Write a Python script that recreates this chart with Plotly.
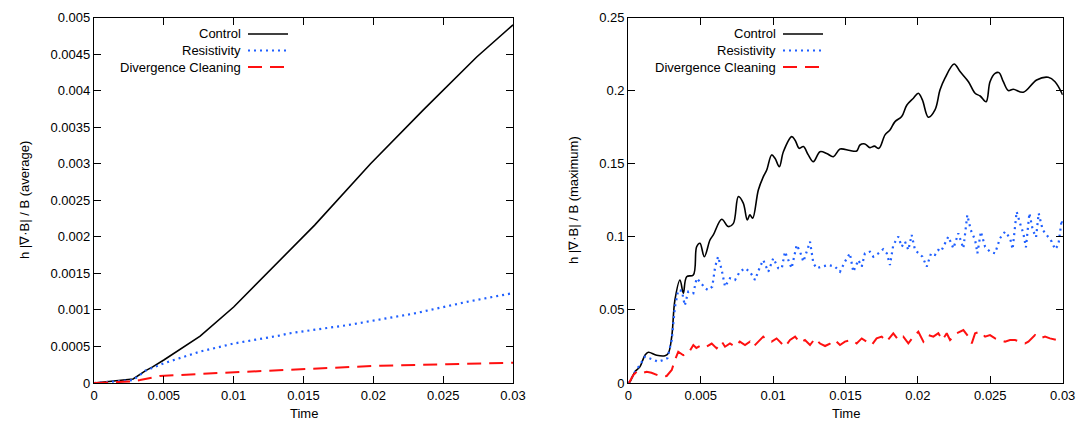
import plotly.graph_objects as go

# ---------------- Left panel: average ----------------
avg_ctrl_t = [0, 0.0015, 0.0028, 0.0037, 0.0042, 0.005, 0.0076, 0.01, 0.0121, 0.0140, 0.0158, 0.0198, 0.0236, 0.0274, 0.03]
avg_ctrl_v = [0, 0.00003, 0.000055, 0.00017, 0.00022, 0.000315, 0.00064, 0.00104, 0.00145, 0.00182, 0.00216, 0.00300, 0.00374, 0.00446, 0.0049]

avg_res_t = [0, 0.0015, 0.0028, 0.0037, 0.005, 0.0076, 0.01, 0.0133, 0.0140, 0.0181, 0.0229, 0.0267, 0.03]
avg_res_v = [0, 0.00002, 0.00004, 0.00017, 0.00027, 0.00043, 0.00054, 0.00065, 0.00068, 0.00079, 0.00095, 0.00111, 0.00123]

avg_div_t = [0, 0.0015, 0.0026, 0.0033, 0.0047, 0.0093, 0.014, 0.0157, 0.0205, 0.0253, 0.03]
avg_div_v = [0, 0.00001, 0.00002, 0.00004, 0.000096, 0.00014, 0.000178, 0.00019, 0.000237, 0.000256, 0.000278]

# ---------------- Right panel: maximum ----------------
max_ctrl_t = [0, 0.00012, 0.00046, 0.0008, 0.00115, 0.00138, 0.00196, 0.00253, 0.00276, 0.003, 0.00322, 0.00357,
              0.0038, 0.00403, 0.00449, 0.00472, 0.00495, 0.00525, 0.00564, 0.00587, 0.00645, 0.0069, 0.00725, 0.0076,
              0.00794, 0.00822, 0.0084, 0.00859, 0.00898, 0.00932, 0.00956, 0.0099, 0.01013, 0.01043, 0.01071, 0.01129,
              0.01152, 0.01181, 0.01209, 0.01243, 0.01278, 0.01324, 0.0137, 0.01416, 0.01462, 0.01531, 0.01577, 0.016,
              0.01634, 0.01669, 0.01699, 0.01731, 0.01773, 0.01807, 0.01842, 0.01888, 0.01923, 0.01969, 0.02003, 0.02031,
              0.02072, 0.02118, 0.02153, 0.02187, 0.0225, 0.02291, 0.02349, 0.02395, 0.0243, 0.02471, 0.02498, 0.02533,
              0.0256, 0.0259, 0.02624, 0.02659, 0.02728, 0.0282, 0.029, 0.02947, 0.03]
max_ctrl_v = [0, 0.0009, 0.0077, 0.011, 0.019, 0.021, 0.019, 0.0187, 0.0203, 0.0317, 0.0568, 0.0705,
              0.0614, 0.0727, 0.0739, 0.0932, 0.0956, 0.0864, 0.0978, 0.1013, 0.112, 0.107, 0.109, 0.1275,
              0.123, 0.1115, 0.115, 0.1127, 0.132, 0.141, 0.1457, 0.156, 0.1537, 0.148, 0.1582, 0.1685,
              0.166, 0.1605, 0.1617, 0.156, 0.1514, 0.1582, 0.157, 0.1548, 0.16, 0.159, 0.1587, 0.1628,
              0.1635, 0.161, 0.162, 0.1605, 0.1697, 0.173, 0.1788, 0.1822, 0.190, 0.1948, 0.1982, 0.1936,
              0.1818, 0.1868, 0.2005, 0.2085, 0.2182, 0.213, 0.2061, 0.1982, 0.1963, 0.1924, 0.2061, 0.2118,
              0.2123, 0.2061, 0.2, 0.2009, 0.1989, 0.2073, 0.2091, 0.2061, 0.197]

max_res_t = [0, 0.0001, 0.00046, 0.0008, 0.00115, 0.0015, 0.00207, 0.00242, 0.0027, 0.003, 0.00322, 0.00345, 0.0037,
             0.0039, 0.00414, 0.00449, 0.00472, 0.00495, 0.0053, 0.0055, 0.0058, 0.006, 0.0062, 0.00645, 0.00668,
             0.00702, 0.00737, 0.0077, 0.00806, 0.0084, 0.00875, 0.0091, 0.00932, 0.00967, 0.01001, 0.01036, 0.0106,
             0.01082, 0.01105, 0.01128, 0.01163, 0.01186, 0.01209, 0.01232, 0.01255, 0.01278, 0.01301, 0.01336, 0.01381,
             0.01427, 0.01462, 0.01496, 0.0153, 0.01554, 0.01589, 0.01612, 0.01634, 0.01669, 0.01692, 0.01727, 0.0176,
             0.01785, 0.01807, 0.0183, 0.01865, 0.01888, 0.01911, 0.01934, 0.01957, 0.0198, 0.02003, 0.02031, 0.02061,
             0.02091, 0.02118, 0.02141, 0.0216, 0.02187, 0.0221, 0.02245, 0.02279, 0.02314, 0.02341, 0.02365, 0.02395,
             0.02411, 0.02435, 0.02464, 0.02498, 0.02533, 0.02567, 0.02602, 0.02637, 0.02654, 0.02682, 0.02705, 0.02728,
             0.02746, 0.0277, 0.02793, 0.02816, 0.02834, 0.02862, 0.02889, 0.02924, 0.02947, 0.0297, 0.02993, 0.03]
max_res_v = [0, 0.001, 0.0077, 0.0123, 0.018, 0.0169, 0.0146, 0.0157, 0.0169, 0.0294, 0.052, 0.0636, 0.063,
             0.053, 0.0625, 0.0614, 0.0716, 0.0693, 0.0648, 0.0636, 0.0659, 0.0796, 0.0864, 0.0773, 0.0659,
             0.0716, 0.0705, 0.0761, 0.0785, 0.0761, 0.0705, 0.0796, 0.0841, 0.0761, 0.0853, 0.0785, 0.0785,
             0.0898, 0.0841, 0.0785, 0.0944, 0.0898, 0.083, 0.0898, 0.0967, 0.0819, 0.0785, 0.0796, 0.0807,
             0.0796, 0.0761, 0.083, 0.0887, 0.0761, 0.0841, 0.0796, 0.0887, 0.0898, 0.0864, 0.0887, 0.0915,
             0.0887, 0.0807, 0.0944, 0.1001, 0.0932, 0.0967, 0.091, 0.1013, 0.091, 0.0887, 0.0864, 0.0796,
             0.0887, 0.0876, 0.091, 0.09, 0.0956, 0.1001, 0.0921, 0.1024, 0.0921, 0.1149, 0.1047, 0.0978,
             0.0887, 0.1035, 0.0932, 0.0898, 0.0887, 0.099, 0.1035, 0.099, 0.0915, 0.1172, 0.1093, 0.1024,
             0.0928, 0.1161, 0.1047, 0.0997, 0.1161, 0.1047, 0.1013, 0.0967, 0.0915, 0.0944, 0.1115, 0.108]

max_div_t = [0, 0.0001, 0.00035, 0.00058, 0.00092, 0.00127, 0.0016, 0.00196, 0.0023, 0.00265, 0.003, 0.00322,
             0.00345, 0.0038, 0.00414, 0.00449, 0.0047, 0.00507, 0.0054, 0.00576, 0.0061, 0.00645, 0.00668, 0.00702,
             0.00737, 0.0077, 0.00806, 0.0084, 0.00864, 0.00898, 0.00932, 0.00956, 0.0099, 0.01024, 0.01059, 0.01082,
             0.01117, 0.01152, 0.01186, 0.0122, 0.01255, 0.0129, 0.01324, 0.01359, 0.01393, 0.01427, 0.01462, 0.01496,
             0.01542, 0.01577, 0.01612, 0.01646, 0.01681, 0.01715, 0.0175, 0.01784, 0.0183, 0.01865, 0.01899, 0.01934,
             0.01969, 0.02003, 0.02038, 0.02072, 0.02107, 0.02141, 0.02169, 0.02199, 0.02222, 0.02245, 0.02268, 0.02314,
             0.02349, 0.02372, 0.02395, 0.0243, 0.02464, 0.02498, 0.02533, 0.02567, 0.02602, 0.02636, 0.02671, 0.02705,
             0.0274, 0.02763, 0.02809, 0.02843, 0.02878, 0.02912, 0.02958, 0.02993, 0.03]
max_div_v = [0, 0.001, 0.0055, 0.0077, 0.0066, 0.0077, 0.007, 0.0055, 0.0043, 0.0048, 0.0089, 0.0157,
             0.0214, 0.019, 0.0203, 0.026, 0.024, 0.026, 0.0248, 0.027, 0.0237, 0.0283, 0.0248, 0.027,
             0.0248, 0.0283, 0.026, 0.0283, 0.0248, 0.0283, 0.0317, 0.0294, 0.0283, 0.0305, 0.027, 0.0248,
             0.0294, 0.0317, 0.0276, 0.0294, 0.026, 0.0305, 0.027, 0.0253, 0.027, 0.0294, 0.026, 0.0283,
             0.0294, 0.0271, 0.0305, 0.0283, 0.026, 0.0305, 0.0317, 0.0283, 0.034, 0.0294, 0.0317, 0.0271,
             0.0317, 0.0351, 0.0283, 0.0328, 0.0317, 0.034, 0.0294, 0.034, 0.0294, 0.0317, 0.034, 0.0362,
             0.0317, 0.0271, 0.034, 0.0351, 0.0317, 0.0328, 0.0305, 0.0294, 0.0283, 0.0294, 0.0294, 0.0283,
             0.0271, 0.0283, 0.0328, 0.0305, 0.0317, 0.0305, 0.0294, 0.0305, 0.03]

series_names = ["Control", "Resistivity", "Divergence Cleaning"]
y_titles = ["h |∇·B| / B (average)", "h |∇·B| / B (maximum)"]
x_title = "Time"

x_tickvals = [0, 0.005, 0.01, 0.015, 0.02, 0.025, 0.03]
x_ticktext = ["0", "0.005", "0.01", "0.015", "0.02", "0.025", "0.03"]
yl_tickvals = [0, 0.0005, 0.001, 0.0015, 0.002, 0.0025, 0.003, 0.0035, 0.004, 0.0045, 0.005]
yl_ticktext = ["0", "0.0005", "0.001", "0.0015", "0.002", "0.0025", "0.003", "0.0035", "0.004", "0.0045", "0.005"]
yr_tickvals = [0, 0.05, 0.1, 0.15, 0.2, 0.25]
yr_ticktext = ["0", "0.05", "0.1", "0.15", "0.2", "0.25"]

W, H = 1079, 430
FONT = "Liberation Sans, Arial, Helvetica, sans-serif"
BLUE = "#1f5fff"
RED = "#ff1010"

styles = [
    dict(color="black", width=1.6, dash="solid"),
    dict(color=BLUE, width=2.2, dash="2px,4px"),
    dict(color=RED, width=2.0, dash="14px,8px"),
]

def px_x(p):
    return p / W

def px_y(p):
    return 1 - p / H

row_y = [34, 50.5, 67]
legend_x = {"l": 243, "r": 778}

fig = go.Figure()

left = [(avg_ctrl_t, avg_ctrl_v), (avg_res_t, avg_res_v), (avg_div_t, avg_div_v)]
right = [(max_ctrl_t, max_ctrl_v), (max_res_t, max_res_v), (max_div_t, max_div_v)]

legend_layout = {}
k = 0
for panel, data, xa, ya in [("l", left, "x", "y"), ("r", right, "x2", "y2")]:
    for i, (t, v) in enumerate(data):
        k += 1
        lname = "legend" if k == 1 else f"legend{k}"
        st = dict(styles[i])
        shape = "spline" if (i == 0 and panel == "r") else "linear"
        fig.add_trace(go.Scatter(x=t, y=v, mode="lines", line=dict(**st, shape=shape), name=" ",
                                 xaxis=xa, yaxis=ya, legend=lname))
        legend_layout[lname] = dict(x=px_x(legend_x[panel]), y=px_y(row_y[i]), xanchor="left", yanchor="middle",
                                    bgcolor="rgba(0,0,0,0)", itemwidth=40, font=dict(size=11),
                                    itemclick=False, itemdoubleclick=False)

ydom = [px_y(383), px_y(17.5)]
axis_common = dict(showline=True, linecolor="black", linewidth=1.2, mirror="ticks",
                   ticks="inside", ticklen=7, tickwidth=1, tickcolor="black", automargin=False,
                   showgrid=False, zeroline=False, tickfont=dict(family=FONT, size=13, color="black"))

fig.update_layout(
    width=W, height=H,
    margin=dict(l=0, r=0, t=0, b=0, autoexpand=False),
    paper_bgcolor="white", plot_bgcolor="white",
    font=dict(family=FONT, size=13, color="black"),
    xaxis=dict(domain=[px_x(94), px_x(513)], range=[0, 0.03], tickmode="array",
               tickvals=x_tickvals, ticktext=x_ticktext, anchor="y", **axis_common),
    yaxis=dict(domain=ydom, range=[0, 0.005], tickmode="array",
               tickvals=yl_tickvals, ticktext=yl_ticktext, anchor="x", **axis_common),
    xaxis2=dict(domain=[px_x(628.3), px_x(1062.7)], range=[0, 0.03], tickmode="array",
                tickvals=x_tickvals, ticktext=x_ticktext, anchor="y2", **axis_common),
    yaxis2=dict(domain=ydom, range=[0, 0.25], tickmode="array",
                tickvals=yr_tickvals, ticktext=yr_ticktext, anchor="x2", **axis_common),
    showlegend=True,
    **legend_layout,
)

# legend texts (right-aligned, sample line to the right as in the original)
for panel in ["l", "r"]:
    for name, ry in zip(series_names, row_y):
        fig.add_annotation(x=px_x(legend_x[panel]), y=px_y(ry), xref="paper", yref="paper",
                           text=name, showarrow=False, xanchor="right", yanchor="middle",
                           font=dict(family=FONT, size=13, color="black"))

# axis titles
for cx, ttl in zip([25, 574], y_titles):
    fig.add_annotation(x=px_x(cx), y=px_y(200), xref="paper", yref="paper", text=ttl,
                       textangle=-90, showarrow=False, xanchor="center", yanchor="middle",
                       font=dict(family=FONT, size=13, color="black"))
for cx in [(94 + 513) / 2, (628.3 + 1062.7) / 2]:
    fig.add_annotation(x=px_x(cx), y=px_y(413), xref="paper", yref="paper", text=x_title,
                       showarrow=False, xanchor="center", yanchor="middle",
                       font=dict(family=FONT, size=13, color="black"))

fig.write_html("out.html")
